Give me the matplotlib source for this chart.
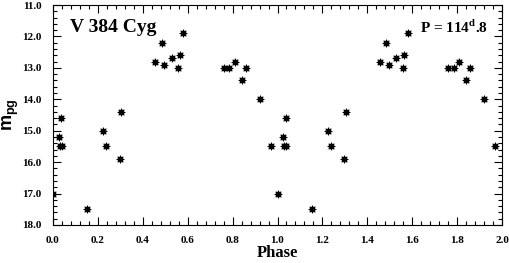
#!/usr/bin/env python3

import matplotlib
matplotlib.use('Agg')
import matplotlib.pyplot as plt
from matplotlib.ticker import MultipleLocator
import numpy as np

plt.rcParams['font.family']= 'Liberation Serif'
plt.rcParams['font.weight']= 'bold'
plt.rcParams['mathtext.fontset']= 'custom'
plt.rcParams['mathtext.bf']= 'Liberation Serif:bold'
plt.rcParams['mathtext.rm']= 'Liberation Serif:bold'
plt.rcParams['mathtext.sf']= 'Liberation Sans:bold'

# phase (one cycle) and photographic magnitude
phase= np.array([
    0.000, 0.025, 0.030, 0.036, 0.040, 0.153, 0.224, 0.238,
    0.298, 0.305, 0.456, 0.484, 0.496, 0.530, 0.557, 0.564,
    0.581, 0.761, 0.784, 0.809, 0.841, 0.858, 0.920, 0.969,
])
mag= np.array([
    17.0, 15.2, 15.5, 14.6, 15.5, 17.5, 15.0, 15.5,
    15.9, 14.4, 12.8, 12.2, 12.9, 12.7, 13.0, 12.6,
    11.9, 13.0, 13.0, 12.8, 13.4, 13.0, 14.0, 15.5,
])

STAR= 'V 384 Cyg'
PERIOD= r'P = 114$^{\mathbf{d}}$.8'

fig= plt.figure(figsize=(5.10, 2.63), dpi=100)
ax= fig.add_axes([53/510, 38/263, 449/510, 220/263])

# two cycles
x= np.concatenate([phase, phase + 1])
y= np.concatenate([mag, mag])
ax.plot(x, y, ls='none', marker=(8, 1, 0), ms=5.5, color='k', mew=0.6)

ax.set_xlim(0, 2)
ax.set_ylim(18, 11)

ax.xaxis.set_major_locator(MultipleLocator(0.2))
ax.xaxis.set_minor_locator(MultipleLocator(0.04))
ax.yaxis.set_major_locator(MultipleLocator(1.0))
ax.yaxis.set_minor_locator(MultipleLocator(0.2))
ax.xaxis.set_major_formatter('{x:.1f}')
ax.yaxis.set_major_formatter('{x:.1f}')

ax.tick_params(which='both', direction='in', top=True, right=True,
               width=0.8, labelsize=8)
ax.tick_params(which='major', length=6, pad=8)
ax.tick_params(which='minor', length=3)
for s in ax.spines.values():
    s.set_linewidth(0.8)

ax.set_xlabel('Phase', fontsize=12, fontweight='bold')
ax.xaxis.set_label_coords(0.5, -0.09)
ax.set_ylabel(r'$\mathsf{m}_{\mathsf{pg}}$', fontsize=13)
ax.yaxis.set_label_coords(-0.072, 0.5)

ax.text(0.038, 0.877, STAR, transform=ax.transAxes, fontsize=14,
        fontweight='bold', va='baseline')
ax.text(0.817, 0.873, PERIOD, transform=ax.transAxes, fontsize=11,
        fontweight='bold', va='baseline')

fig.savefig('out.png', dpi=100)
